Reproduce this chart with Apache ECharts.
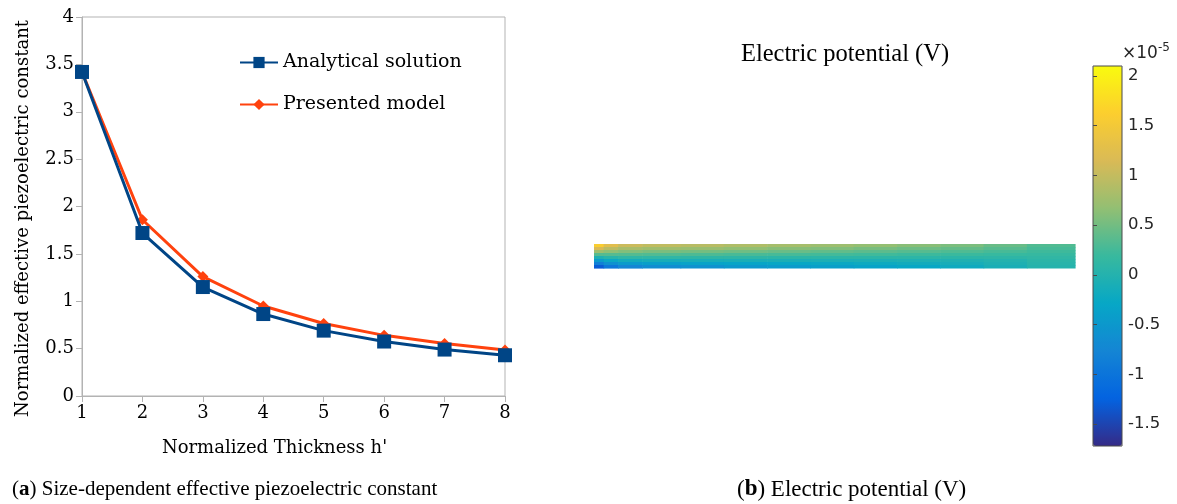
<!DOCTYPE html>
<html><head><meta charset="utf-8">
<script src="https://cdn.jsdelivr.net/npm/echarts@6/dist/echarts.min.js"></script>
<style>html,body{margin:0;padding:0;background:#fff}#c{width:1177px;height:504px}</style>
</head><body><div id="c"></div>
<script>
// ---- Left panel data ----
const thickness = [1, 2, 3, 4, 5, 6, 7, 8];
const analytical = [3.42, 1.72, 1.15, 0.865, 0.69, 0.575, 0.49, 0.43];
const presented = [3.42, 1.86, 1.26, 0.95, 0.765, 0.64, 0.555, 0.485];
const seriesNames = ['Analytical solution', 'Presented model'];

// ---- Right panel data (x1e-5 V) ----
const cbMin = -1.72, cbMax = 2.1;
const cbTicks = [-1.5, -1, -0.5, 0, 0.5, 1, 1.5, 2];
const beamXEdges = [0, 0.02, 0.05, 0.1, 0.18, 0.27, 0.36, 0.45, 0.54, 0.63, 0.72, 0.81, 0.9, 1.0];
const beamRow0 = [1.60, 1.25, 1.05, 0.98, 0.92, 0.86, 0.80, 0.74, 0.68, 0.62, 0.55, 0.45, 0.32];
const beamRow1 = [1.15, 0.95, 0.82, 0.76, 0.72, 0.67, 0.62, 0.58, 0.53, 0.48, 0.43, 0.36, 0.27];
const beamRow2 = [0.75, 0.65, 0.58, 0.54, 0.51, 0.48, 0.45, 0.41, 0.38, 0.35, 0.31, 0.27, 0.22];
const beamRow3 = [0.35, 0.35, 0.34, 0.32, 0.30, 0.28, 0.27, 0.25, 0.23, 0.21, 0.20, 0.18, 0.17];
const beamRow4 = [-0.05, 0.05, 0.10, 0.10, 0.09, 0.09, 0.08, 0.08, 0.08, 0.08, 0.08, 0.09, 0.12];
const beamRow5 = [-0.45, -0.25, -0.15, -0.12, -0.11, -0.10, -0.09, -0.08, -0.07, -0.06, -0.04, 0.00, 0.08];
const beamRow6 = [-0.85, -0.60, -0.45, -0.40, -0.35, -0.32, -0.28, -0.25, -0.21, -0.17, -0.12, -0.05, 0.05];
const beamRow7 = [-1.30, -0.95, -0.75, -0.65, -0.58, -0.50, -0.45, -0.40, -0.34, -0.28, -0.20, -0.10, 0.02];
const beamRows = [beamRow0, beamRow1, beamRow2, beamRow3, beamRow4, beamRow5, beamRow6, beamRow7];

const parula = ['#352a87', '#0363e1', '#1485d4', '#06a7c6', '#38b99e', '#92bf73', '#d9ba56', '#fcce2e', '#f9fb0e'];

const beamData = [];
const nR = beamRows.length;
beamRows.forEach((row, r) => {
  row.forEach((v, c) => {
    beamData.push([beamXEdges[c], beamXEdges[c + 1], 1 - (r + 1) / nR, 1 - r / nR, v]);
  });
});

function renderBeam(params, api) {
  const p0 = api.coord([api.value(0), api.value(3)]);
  const p1 = api.coord([api.value(1), api.value(2)]);
  return {
    type: 'rect',
    shape: { x: p0[0], y: p0[1], width: p1[0] - p0[0] + 0.6, height: p1[1] - p0[1] + 0.6 },
    style: { fill: api.visual('color') }
  };
}

const serif = 'DejaVu Serif';
const chart = echarts.init(document.getElementById('c'), null, { renderer: 'canvas' });
chart.setOption({
  backgroundColor: '#fff',
  animation: false,
  grid: [
    { left: 82, top: 17, width: 423, height: 379, show: true, borderColor: '#b3b3b3', borderWidth: 1 },
    { left: 594, top: 244, width: 481, height: 24 },
    { left: 1093, top: 66, width: 29, height: 380, show: true, borderColor: '#4a4a4a', borderWidth: 1, z: 10 }
  ],
  xAxis: [
    {
      gridIndex: 0, type: 'value', min: 1, max: 8, interval: 1,
      name: "Normalized Thickness h'", nameLocation: 'middle', nameGap: 43,
      nameTextStyle: { fontFamily: serif, fontSize: 18, color: '#000', padding: [0, 38, 0, 0] },
      axisLine: { lineStyle: { color: '#b3b3b3' } },
      axisTick: { show: true, length: 6, lineStyle: { color: '#b3b3b3' } },
      axisLabel: { fontFamily: serif, fontSize: 18, color: '#000', margin: 8 },
      splitLine: { show: false }
    },
    { gridIndex: 1, type: 'value', min: 0, max: 1, show: false },
    { gridIndex: 2, type: 'value', min: 0, max: 1, show: false }
  ],
  yAxis: [
    {
      gridIndex: 0, type: 'value', min: 0, max: 4, interval: 0.5,
      name: 'Normalized effective piezoelectric constant', nameLocation: 'middle', nameGap: 50,
      nameTextStyle: { fontFamily: serif, fontSize: 18, color: '#000', padding: [0, 24, 0, 0] },
      axisLine: { show: true, lineStyle: { color: '#b3b3b3' } },
      axisTick: { show: true, length: 6, lineStyle: { color: '#b3b3b3' } },
      axisLabel: { fontFamily: serif, fontSize: 18, color: '#000', margin: 8 },
      splitLine: { show: false }
    },
    { gridIndex: 1, type: 'value', min: 0, max: 1, show: false },
    {
      gridIndex: 2, type: 'value', min: cbMin, max: cbMax, position: 'right', z: 10,
      axisLine: { show: false },
      axisTick: { show: true, inside: false, length: 4, customValues: cbTicks, lineStyle: { color: '#4a4a4a' } },
      axisLabel: { customValues: cbTicks, fontFamily: 'DejaVu Sans', fontSize: 16.5, color: '#262626', margin: 6 },
      splitLine: { show: false }
    }
  ],
  visualMap: {
    type: 'continuous', min: cbMin, max: cbMax, seriesIndex: 2, dimension: 4,
    left: 1093, top: 66, itemWidth: 29, itemHeight: 380, padding: 0,
    calculable: false, hoverLink: false, text: null, showLabel: false,
    inRange: { color: parula }
  },
  legend: {
    orient: 'vertical', left: 234, top: 48, itemGap: 23, itemWidth: 38, itemHeight: 14,
    data: seriesNames,
    textStyle: { fontFamily: serif, fontSize: 19, color: '#000' }
  },
  series: [
    {
      name: seriesNames[1], type: 'line', xAxisIndex: 0, yAxisIndex: 0, z: 2,
      data: thickness.map((t, i) => [t, presented[i]]),
      symbol: 'diamond', symbolSize: 11,
      lineStyle: { color: '#ff420e', width: 3 }, itemStyle: { color: '#ff420e' }
    },
    {
      name: seriesNames[0], type: 'line', xAxisIndex: 0, yAxisIndex: 0, z: 3,
      data: thickness.map((t, i) => [t, analytical[i]]),
      symbol: 'rect', symbolSize: 14,
      lineStyle: { color: '#004586', width: 3 }, itemStyle: { color: '#004586' }
    },
    {
      type: 'custom', xAxisIndex: 1, yAxisIndex: 1, renderItem: renderBeam,
      encode: { x: [0, 1], y: [2, 3] }, data: beamData, silent: true
    }
  ],
  graphic: [
    {
      type: 'text', x: 845, y: 42,
      style: { text: 'Electric potential (V)', fontFamily: 'Liberation Serif', fontSize: 24.5, fill: '#000', textAlign: 'center' }
    },
    {
      type: 'text', x: 1122, y: 42,
      style: {
        text: '{a|×10}{b|-5}',
        rich: {
          a: { fontFamily: 'DejaVu Sans', fontSize: 17, fill: '#262626', verticalAlign: 'bottom' },
          b: { fontFamily: 'DejaVu Sans', fontSize: 12, fill: '#262626', verticalAlign: 'top', padding: [0, 0, 8, 0] }
        }
      }
    },
    {
      type: 'text', x: 12, y: 479,
      style: {
        text: '({b|a}) Size-dependent effective piezoelectric constant',
        fontFamily: 'Liberation Serif', fontSize: 21, fill: '#000',
        rich: { b: { fontFamily: 'Liberation Serif', fontSize: 21, fontWeight: 'bold', fill: '#000' } }
      }
    },
    {
      type: 'text', x: 737, y: 478,
      style: {
        text: '({b|b}) Electric potential (V)',
        fontFamily: 'Liberation Serif', fontSize: 23, fill: '#000',
        rich: { b: { fontFamily: 'Liberation Serif', fontSize: 23, fontWeight: 'bold', fill: '#000' } }
      }
    }
  ]
});
</script>
</body></html>
